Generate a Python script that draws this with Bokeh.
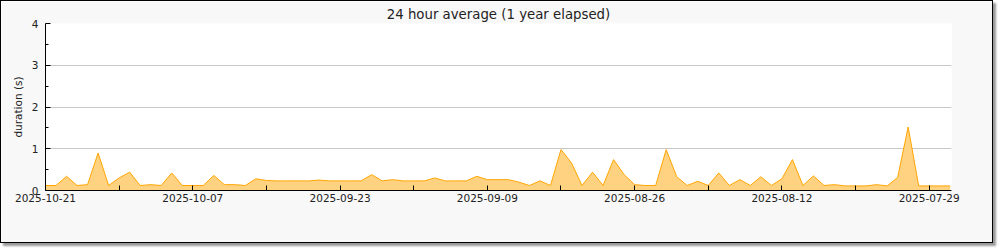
import pandas as pd
from bokeh.plotting import figure
from bokeh.models import Range1d, FixedTicker, DatetimeTickFormatter, ColumnDataSource
from bokeh.embed import file_html
from bokeh.resources import INLINE

title_text = "24 hour average (1 year elapsed)"
y_label = "duration (s)"
last_date = "2025-10-21"
first_date = "2025-07-27"

# daily averages, newest (left) to oldest (right)
durations = [
    0.12, 0.12, 0.34, 0.12, 0.14, 0.90, 0.12, 0.30, 0.44, 0.12,
    0.14, 0.12, 0.42, 0.12, 0.12, 0.12, 0.36, 0.14, 0.14, 0.12,
    0.28, 0.24, 0.23, 0.23, 0.23, 0.23, 0.25, 0.23, 0.23, 0.23,
    0.23, 0.38, 0.23, 0.26, 0.23, 0.23, 0.23, 0.30, 0.23, 0.23,
    0.23, 0.34, 0.26, 0.26, 0.26, 0.20, 0.12, 0.23, 0.12, 0.98,
    0.66, 0.12, 0.44, 0.12, 0.74, 0.38, 0.14, 0.12, 0.12, 0.98,
    0.33, 0.12, 0.22, 0.12, 0.42, 0.12, 0.26, 0.12, 0.33, 0.12,
    0.28, 0.74, 0.12, 0.35, 0.12, 0.14, 0.11, 0.11, 0.11, 0.14,
    0.11, 0.31, 1.52, 0.11, 0.11, 0.11, 0.11,
]

tick_labels = ["2025-10-21", "2025-10-07", "2025-09-23", "2025-09-09",
               "2025-08-26", "2025-08-12", "2025-07-29"]
minor_tick_dates = ["2025-10-14", "2025-09-30", "2025-09-16", "2025-09-02",
                    "2025-08-19", "2025-08-05"]
y_ticks = [0, 1, 2, 3, 4]
y_minor_ticks = [0.5, 1.5, 2.5, 3.5]


def ms(s):
    return pd.Timestamp(s).value // 10**6


dates = list(pd.date_range(start=first_date, end=last_date, freq="D"))[::-1]
src = ColumnDataSource(dict(x=dates, y=durations, y0=[0] * len(durations)))

DAY = 86400000
p = figure(width=993, height=243, output_backend="svg", toolbar_location=None,
           x_axis_type="datetime",
           x_range=Range1d(start=ms(last_date), end=ms(first_date) - int(0.12 * DAY)),
           y_range=Range1d(start=0, end=4),
           min_border_left=44, min_border_right=43, min_border_top=22, min_border_bottom=54)
p.styles = {"border": "1px solid #000", "box-shadow": "3px 3px 2px #999"}

p.background_fill_color = "#ffffff"
p.border_fill_color = "#f8f8f8"
p.outline_line_color = None

p.varea(x="x", y1="y0", y2="y", source=src, fill_color="#ffd282", fill_alpha=1.0)
p.line(x="x", y="y", source=src, line_color="#ffa500", line_width=1)

p.title.text = title_text
p.title.align = "center"
p.title.vertical_align = "top"
p.title.text_font = "DejaVu Sans"
p.title.text_font_size = "13.3px"
p.title.text_font_style = "normal"
p.title.text_line_height = 0.8
p.title.text_color = "#222222"
p.title.standoff = 0
p.title.offset = 0

p.xgrid.visible = False
p.ygrid.grid_line_color = "#c8c8c8"
p.ygrid.grid_line_width = 1

xa = p.xaxis[0]
xa.ticker = FixedTicker(ticks=[ms(t) for t in tick_labels],
                        minor_ticks=[ms(t) for t in minor_tick_dates])
fmt = "%Y-%m-%d"
xa.formatter = DatetimeTickFormatter(days=fmt, months=fmt, years=fmt, hours=fmt,
                                     hourmin=fmt, minutes=fmt, minsec=fmt,
                                     seconds=fmt, milliseconds=fmt, microseconds=fmt)
xa.major_tick_in = 5
xa.major_tick_out = 0
xa.minor_tick_in = 5
xa.minor_tick_out = 0
xa.major_label_standoff = 3
xa.major_label_text_font = "DejaVu Sans"
xa.major_label_text_font_size = "10.5px"
xa.major_label_text_color = "#222222"
xa.axis_line_color = "#000000"

ya = p.yaxis[0]
ya.ticker = FixedTicker(ticks=y_ticks, minor_ticks=y_minor_ticks)
ya.major_tick_in = 5
ya.major_tick_out = 0
ya.minor_tick_in = 3
ya.minor_tick_out = 0
ya.major_label_standoff = 7
ya.major_label_text_font = "DejaVu Sans"
ya.major_label_text_font_size = "10.5px"
ya.major_label_text_color = "#222222"
ya.axis_label = y_label
ya.axis_label_text_font = "DejaVu Sans"
ya.axis_label_text_font_size = "10.5px"
ya.axis_label_text_font_style = "normal"
ya.axis_label_text_color = "#222222"
ya.axis_label_standoff = 5
ya.axis_line_color = "#000000"

open("out.html", "w").write(file_html(p, INLINE))
